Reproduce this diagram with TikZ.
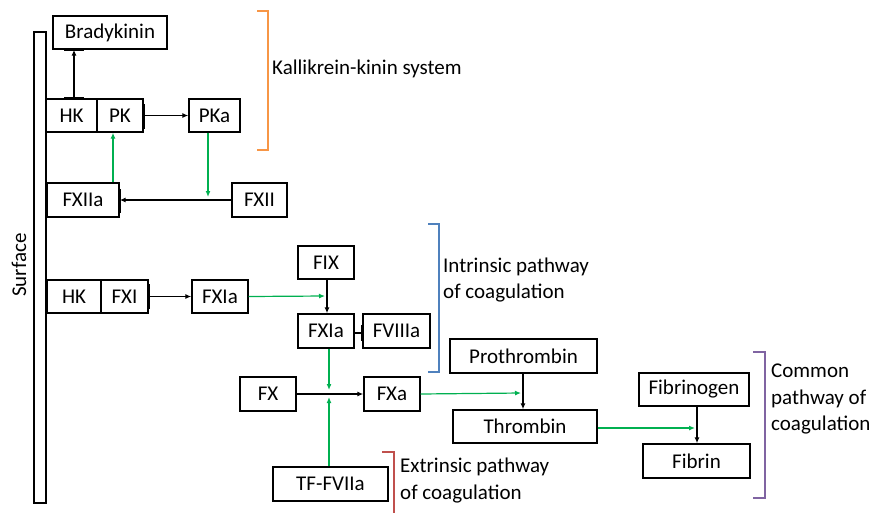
\documentclass[tikz,border=0pt]{standalone}
\usepackage{fontspec}
\setmainfont{Carlito}
\usetikzlibrary{arrows.meta}
\definecolor{arrgreen}{HTML}{00B050}
\definecolor{brorange}{HTML}{F79646}
\definecolor{brblue}{HTML}{4F81BD}
\definecolor{brred}{HTML}{C0504D}
\definecolor{brpurple}{HTML}{8064A2}
\begin{document}
\begin{tikzpicture}[x=1pt,y=-1pt,
  box/.style={draw=black,line width=1.4pt,inner sep=0pt,minimum height=33pt,font=\fontsize{21}{25}\selectfont},
  lab/.style={anchor=west,inner sep=0pt,align=left,font=\fontsize{21}{26.5}\selectfont},
  blk/.style={draw=black,line width=1.2pt,-{Latex[length=6pt,width=5pt]}},
  grn/.style={draw=arrgreen,line width=1.2pt,-{Latex[length=6pt,width=5pt]}},
  tbar/.style={draw=black,line width=2.6pt},
  brk/.style={line width=1.6pt}]
\useasboundingbox (0,0) rectangle (873,512);
% surface
\node[draw,line width=1.4pt,minimum width=12pt,minimum height=471pt,inner sep=0pt] (surf) at (40,267.5) {};
\node[rotate=90,font=\fontsize{21}{25}\selectfont] (surflab) at (19,265) {Surface};
% nodes
\node[box,minimum width=114pt] (brady) at (110,32.5) {Bradykinin};
\node[box,minimum width=50pt] (hk1) at (71.5,115.5) {HK};
\node[box,minimum width=46pt] (pk) at (120,115.5) {PK};
\node[box,minimum width=51pt] (pka) at (214.5,115.5) {PKa};
\node[box,minimum width=72pt,minimum height=34pt] (fxiia) at (83,200) {FXIIa};
\node[box,minimum width=55pt,minimum height=34pt] (fxii) at (259.5,200) {FXII};
\node[box,minimum width=54pt] (hk2) at (74,296.5) {HK};
\node[box,minimum width=47pt] (fxi) at (124.5,296.5) {FXI};
\node[box,minimum width=56pt] (fxia) at (220,296.5) {FXIa};
\node[box,minimum width=56pt] (fix) at (326,262.5) {FIX};
\node[box,minimum width=56pt,minimum height=34pt] (fxia2) at (326,331) {FXIa};
\node[box,minimum width=67pt,minimum height=34pt] (fviiia) at (396.5,331) {FVIIIa};
\node[box,minimum width=56pt,minimum height=34pt] (fx) at (268,394) {FX};
\node[box,minimum width=56pt,minimum height=34pt] (fxa) at (392,394) {FXa};
\node[box,minimum width=115pt,minimum height=34pt] (tf) at (330.5,484) {TF-FVIIa};
\node[box,minimum width=147pt,minimum height=34pt] (proth) at (523.5,356) {Prothrombin};
\node[box,minimum width=144pt] (thromb) at (525,426.5) {Thrombin};
\node[box,minimum width=110pt] (fibgen) at (694,389.5) {Fibrinogen};
\node[box,minimum width=107pt,minimum height=34pt] (fibrin) at (696.5,461) {Fibrin};
% coordinates for free ends
\coordinate (c1) at (208,197);
\coordinate (c2) at (325,296);
\coordinate (c3) at (329,390);
\coordinate (c4) at (329,397);
\coordinate (c5) at (521,393);
\coordinate (c6) at (695,428);
% HK -> Bradykinin
\draw[tbar] ([xshift=-10pt]hk1.north -| 74,0) -- ([xshift=10pt]hk1.north -| 74,0);
\draw[tbar] ([xshift=-10pt]brady.south -| 74,0) -- ([xshift=10pt]brady.south -| 74,0);
\draw[blk] (hk1.north -| 74,0) -- (brady.south -| 74,0);
% FXIIa -> PK
\draw[tbar] (104,132) -- (123,132);
\draw[grn] (fxiia.north -| 113,0) -- (pk.south -| 113,0);
% PK -> PKa
\draw[tbar] (pk.east |- 0,104) -- (pk.east |- 0,129);
\draw[blk] (pk.east) -- (pka.west);
% PKa -> line
\draw[grn] (pka.south -| c1) -- (c1);
% FXII -> FXIIa
\draw[tbar] (fxiia.east |- 0,189) -- (fxiia.east |- 0,213);
\draw[blk] (fxii.west) -- (fxiia.east);
% FXI -> FXIa
\draw[tbar] (fxi.east |- 0,284) -- (fxi.east |- 0,309);
\draw[blk] (fxi.east) -- (fxia.west);
\draw[grn] (fxia.east) -- (c2);
% FIX -> FXIa
\draw[tbar] (317,279) -- (337,279);
\draw[blk] (fix.south -| 327,0) -- (fxia2.north -| 327,0);
% FXIa - FVIIIa
\draw[draw=black,line width=2.4pt] (fxia2.east |- 0,333) -- (fviiia.west |- 0,333);
\draw[tbar] (fviiia.west |- 0,325) -- (fviiia.west |- 0,341);
% FXIa -> FX line
\draw[grn] (fxia2.south -| c3) -- (c3);
% FX -> FXa
\draw[blk] (fx.east) -- (fxa.west);
% TF -> line
\draw[grn] (tf.north -| c4) -- (c4);
% FXa -> prothrombin line
\draw[grn] (fxa.east) -- (c5);
% Prothrombin -> Thrombin
\draw[tbar] (513,373) -- (533,373);
\draw[blk] (proth.south -| 523,0) -- (thromb.north -| 523,0);
\draw[grn] (thromb.east |- c6) -- (c6);
% Fibrinogen -> Fibrin
\draw[tbar] (688,406) -- (708,406);
\draw[tbar] (688,444) -- (708,444);
\draw[blk] (fibgen.south -| 697,0) -- (fibrin.north -| 697,0);
% brackets
\draw[brk,brorange] (257,11) -- (268,11) -- (268,150) -- (257,150);
\draw[brk,brblue] (428,224) -- (439,224) -- (439,372) -- (428,372);
\draw[brk,brred] (382,452) -- (394,452) -- (394,514);
\draw[brk,brpurple] (753,352) -- (765,352) -- (765,498) -- (753,498);
% labels
\node[lab] (kks) at (272,69) {Kallikrein-kinin system};
\node[lab] (intr) at (443,280) {Intrinsic pathway\\of coagulation};
\node[lab] (extr) at (400,480.5) {Extrinsic pathway\\of coagulation};
\node[lab] (comm) at (771,399) {Common\\pathway of\\coagulation};
\end{tikzpicture}
\end{document}
